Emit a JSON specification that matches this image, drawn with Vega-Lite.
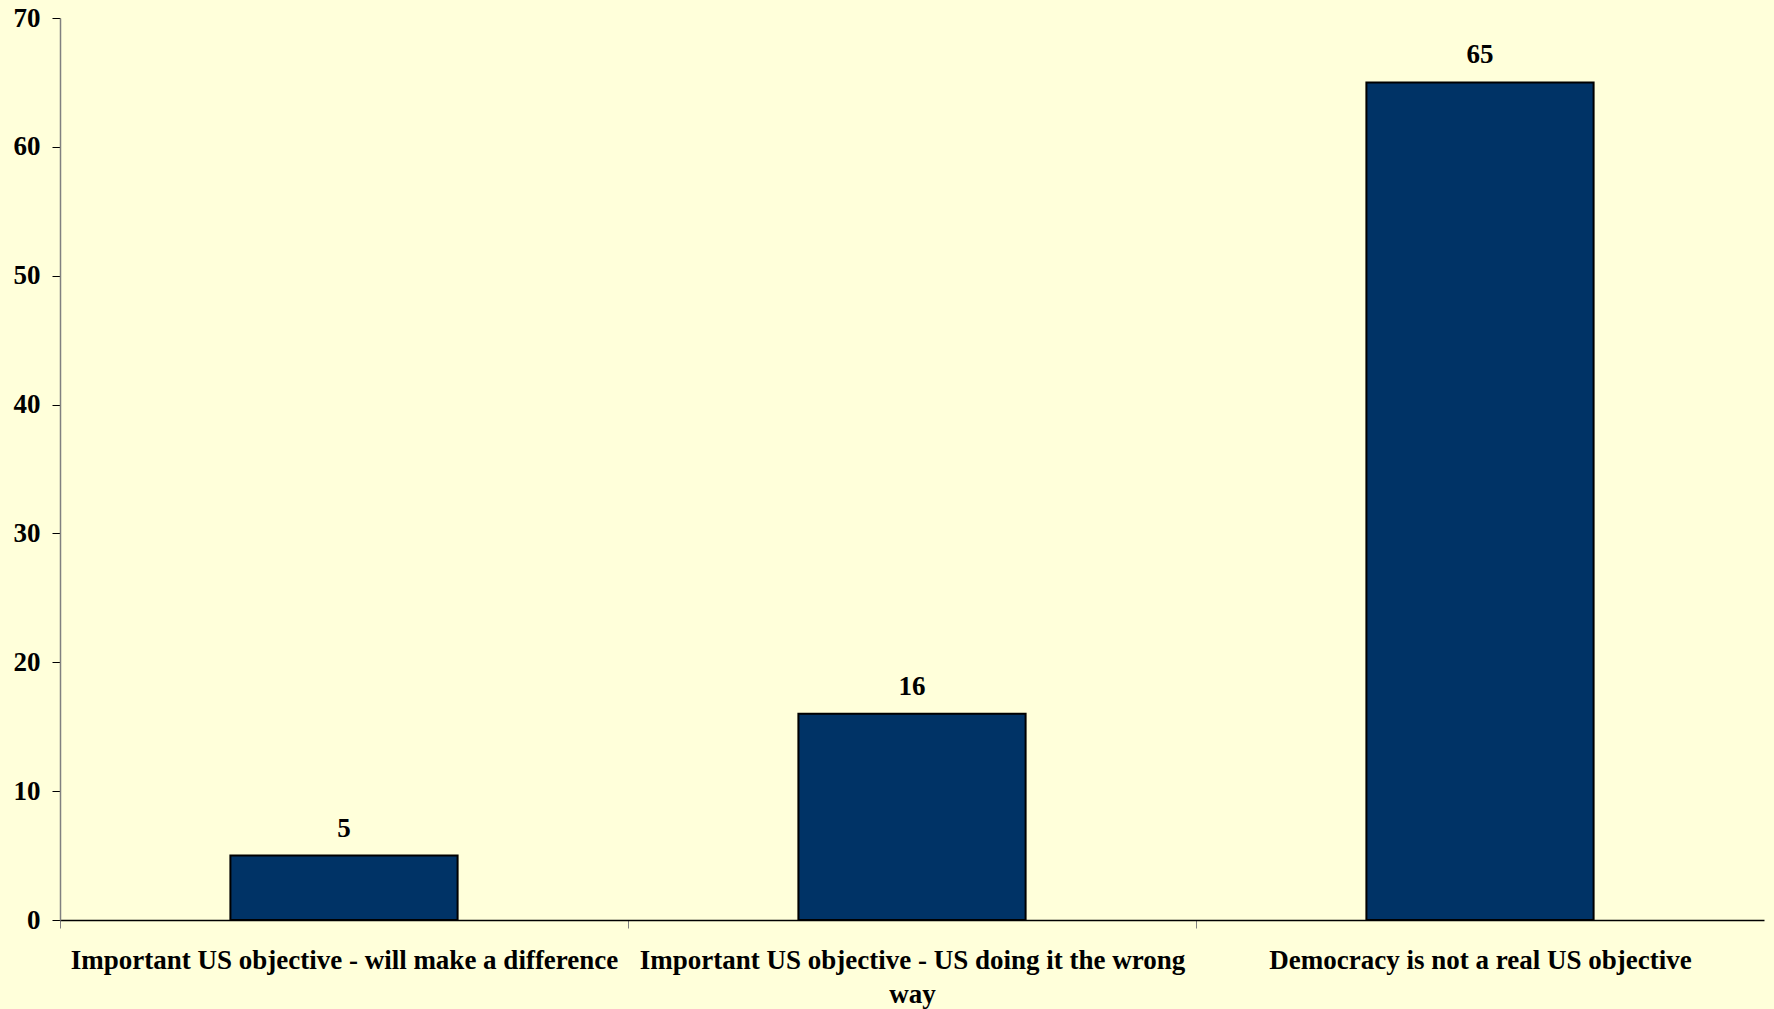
{
  "$schema": "https://vega.github.io/schema/vega-lite/v6.json",
  "autosize": {"type": "none"},
  "padding": {"left": 60, "top": 18, "right": 10, "bottom": 89},
  "width": 1704,
  "height": 902,
  "background": "#FFFFDA",
  "config": {
    "view": {"stroke": null},
    "font": "Liberation Serif",
    "axis": {"labelFont": "Liberation Serif", "labelFontWeight": "bold", "labelColor": "#000000", "labelFontSize": 27, "grid": false, "title": null}
  },
  "data": {
    "values": [
      {"category": "Important US objective - will make a difference", "value": 5},
      {"category": "Important US objective - US doing it the wrong way", "value": 16},
      {"category": "Democracy is not a real US objective", "value": 65}
    ]
  },
  "encoding": {
    "x": {
      "field": "category",
      "type": "nominal",
      "sort": null,
      "scale": {"paddingInner": 0.6, "paddingOuter": 0.3},
      "axis": {
        "labelAngle": 0,
        "labelLimit": 0,
        "labelPadding": 19,
        "labelBaseline": "top",
        "labelLineHeight": 34,
        "labelOffset": 284,
        "labelExpr": "datum.label == 'Important US objective - US doing it the wrong way' ? ['Important US objective - US doing it the wrong', 'way'] : datum.label",
        "domainColor": "#000000",
        "domainWidth": 1.5,
        "tickColor": "#808080",
        "tickSize": 8,
        "tickOffset": -284,
        "tickWidth": 1
      }
    },
    "y": {
      "field": "value",
      "type": "quantitative",
      "scale": {"domain": [0, 70], "nice": false},
      "axis": {
        "values": [0, 10, 20, 30, 40, 50, 60, 70],
        "domainColor": "#808080",
        "domainWidth": 1.5,
        "tickColor": "#000000",
        "tickSize": 8,
        "labelPadding": 12
      }
    }
  },
  "layer": [
    {"mark": {"type": "bar", "color": "#003366", "stroke": "#000000", "strokeWidth": 2}},
    {
      "mark": {"type": "text", "font": "Liberation Serif", "fontWeight": "bold", "fontSize": 27, "baseline": "alphabetic", "dy": -19, "color": "#000000"},
      "encoding": {"text": {"field": "value", "type": "quantitative"}}
    }
  ]
}
